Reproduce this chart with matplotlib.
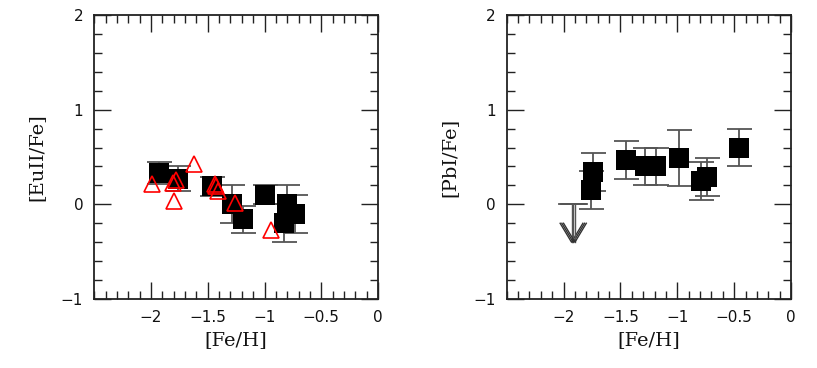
#!/usr/bin/env python

# Two panels: [EuII/Fe] and [PbI/Fe] against [Fe/H]

import matplotlib

matplotlib.use("Agg")
import matplotlib.pyplot as plt
from matplotlib.ticker import MultipleLocator, FixedLocator, FuncFormatter

# Left panel - Eu, black squares with error bars
eu_feh = [-1.93, -1.76, -1.46, -1.29, -1.19, -1.00, -0.80, -0.73, -0.83]
eu_val = [0.33, 0.27, 0.19, 0.00, -0.16, 0.10, 0.00, -0.10, -0.20]
eu_err = [0.12, 0.13, 0.10, 0.20, 0.14, 0.10, 0.20, 0.20, 0.20]

# Left panel - comparison sample, open red triangles
tri_feh = [-1.99, -1.81, -1.78, -1.80, -1.62, -1.44, -1.43, -1.41, -1.26, -0.94]
tri_val = [0.21, 0.23, 0.26, 0.03, 0.43, 0.22, 0.19, 0.14, 0.01, -0.27]

# Right panel - Pb, black squares with error bars
pb_feh = [-1.76, -1.74, -1.455, -1.28, -1.19, -0.985, -0.79, -0.74, -0.46]
pb_val = [0.15, 0.34, 0.47, 0.40, 0.40, 0.49, 0.25, 0.29, 0.60]
pb_err = [0.20, 0.20, 0.20, 0.20, 0.20, 0.30, 0.20, 0.20, 0.20]

# Right panel - upper limits
lim_feh = [-1.93, -1.915, -1.90]
lim_val = [0.0, 0.0, 0.0]
lim_len = 0.4

x_major = [-2, -1.5, -1, -0.5, 0]
y_major = [-1, 0, 1, 2]

fig = plt.figure(figsize=(8.17, 3.68), dpi=100, facecolor="white")

line_col = "#555555"
frame_col = "#222222"


def fmt(v, pos):
    return ("%g" % v).replace("-", "\u2212")


def style_axes(ax, ylabel):
    ax.set_xlim(-2.5, 0)
    ax.set_ylim(-1, 2)
    ax.xaxis.set_major_locator(FixedLocator(x_major))
    ax.xaxis.set_minor_locator(MultipleLocator(0.1))
    ax.yaxis.set_major_locator(FixedLocator(y_major))
    ax.yaxis.set_minor_locator(MultipleLocator(0.2))
    ax.xaxis.set_major_formatter(FuncFormatter(fmt))
    ax.yaxis.set_major_formatter(FuncFormatter(fmt))
    ax.tick_params(
        which="both",
        direction="in",
        top=True,
        right=True,
        color=frame_col,
        labelcolor="#111111",
        labelsize=11,
        width=1.0,
    )
    ax.tick_params(which="major", length=12, pad=8)
    ax.tick_params(which="minor", length=6)
    for s in ax.spines.values():
        s.set_color(frame_col)
        s.set_linewidth(1.3)
    ax.set_xlabel("[Fe/H]", family="DejaVu Serif", fontsize=14, color="#111111",
                  labelpad=4)
    ax.set_ylabel(ylabel, family="DejaVu Serif", fontsize=14, color="#111111",
                  labelpad=11)


def squares(ax, x, y, err):
    ax.errorbar(
        x, y, yerr=err, fmt="none", ecolor=line_col, elinewidth=1.3,
        capsize=9, capthick=1.3, zorder=2,
    )
    ax.plot(x, y, "s", color="black", markersize=14.5, markeredgewidth=0,
            zorder=3, linestyle="none")


# Left
ax_eu = fig.add_axes([0.1154, 0.1875, 0.3473, 0.7717])
style_axes(ax_eu, "[EuII/Fe]")
squares(ax_eu, eu_feh, eu_val, eu_err)
ax_eu.plot(tri_feh, tri_val, "^", markerfacecolor="none", markeredgecolor="red",
           markersize=12, markeredgewidth=1.2, linestyle="none", zorder=4)

# Right
ax_pb = fig.add_axes([0.6202, 0.1875, 0.348, 0.7717])
style_axes(ax_pb, "[PbI/Fe]")
squares(ax_pb, pb_feh, pb_val, pb_err)
for x, y in zip(lim_feh, lim_val):
    tip = y - lim_len
    ax_pb.plot([x - 0.11, x + 0.11], [y, y], color=line_col, lw=1.3, zorder=2)
    ax_pb.plot([x, x], [y, tip], color=line_col, lw=1.0, zorder=2)
    ax_pb.plot([x - 0.1, x, x + 0.1], [tip + 0.2, tip, tip + 0.2],
               color="#333333", lw=1.0, zorder=2)

fig.savefig("out.png", dpi=100)
